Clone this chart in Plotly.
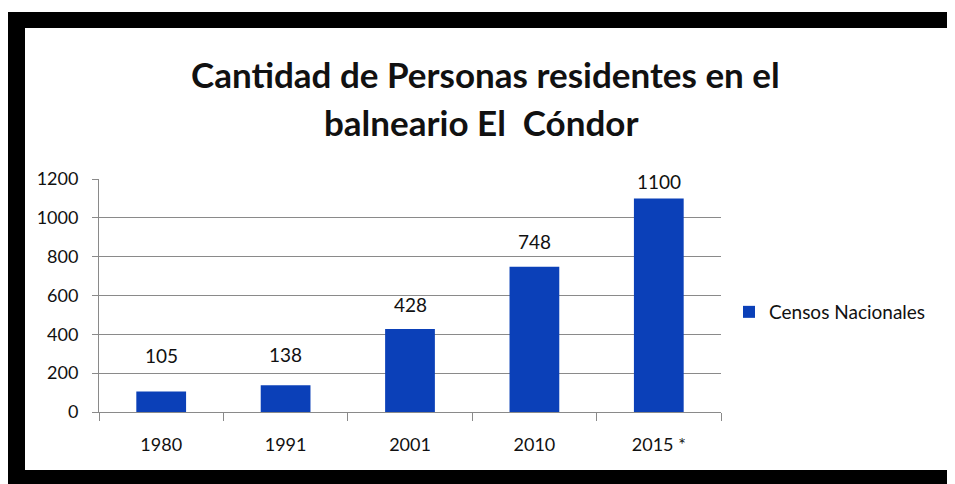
import plotly.graph_objects as go

categories = ["1980", "1991", "2001", "2010", "2015 *"]
values = [105, 138, 428, 748, 1100]
series_name = "Censos Nacionales"
title_lines = ["Cantidad de Personas residentes en el", "balneario El  Cóndor"]
y_ticks = [0, 200, 400, 600, 800, 1000, 1200]

# style: vertical offset (px) of each value label above its bar
label_yshift = [36, 31, 24, 25, 17]

BAR = "#0B40B8"
FONT = "Lato"
TXT = "#111111"

# the page has an 8px body margin, so the figure is drawn 8px smaller/shifted
W, H = 947, 476
L, R, T, B = 91, 234, 171, 72
pw, ph = W - L - R, H - T - B

def px(x):
    return (x - L) / pw

def py(y):
    return (H - B - y) / ph

fig = go.Figure()
fig.add_trace(go.Bar(
    x=categories, y=values, name=series_name,
    marker=dict(color=BAR, line=dict(width=0)),
    showlegend=True,
))

for i, v in enumerate(values):
    fig.add_annotation(x=i, y=v, text=str(v), showarrow=False,
                       yshift=label_yshift[i], yanchor="middle",
                       font=dict(family=FONT, size=19, color=TXT))

fig.add_annotation(x=px(477), y=py(66), xref="paper", yref="paper",
                   text="<b>" + title_lines[0] + "</b>", showarrow=False,
                   xanchor="center", yanchor="middle",
                   font=dict(family=FONT, size=35, color=TXT))
fig.add_annotation(x=px(474), y=py(114), xref="paper", yref="paper",
                   text="<b>" + title_lines[1] + "</b>", showarrow=False,
                   xanchor="center", yanchor="middle",
                   font=dict(family=FONT, size=35, color=TXT))

shapes = [
    dict(type="rect", xref="paper", yref="paper", x0=px(0), x1=px(948), y0=py(4), y1=py(477),
         fillcolor="black", line=dict(width=0), layer="below"),
    dict(type="rect", xref="paper", yref="paper", x0=px(17), x1=px(940), y0=py(20), y1=py(462),
         fillcolor="white", line=dict(width=0), layer="below"),
]

fig.update_layout(
    width=W, height=H,
    margin=dict(l=L, r=R, t=T, b=B),
    paper_bgcolor="white",
    plot_bgcolor="rgba(0,0,0,0)",
    shapes=shapes,
    bargap=0.6,
    font=dict(family=FONT, size=18, color=TXT),
    legend=dict(x=px(721), y=py(304), xanchor="left", yanchor="middle",
                font=dict(family=FONT, size=19, color=TXT),
                bgcolor="rgba(0,0,0,0)", itemwidth=30),
    xaxis=dict(
        type="category", range=[-0.5, len(categories) - 0.5], showgrid=False,
        showline=True, linecolor="#8a8a8a", linewidth=1,
        ticks="outside", tickson="boundaries", ticklen=8, tickcolor="#8a8a8a",
        tickfont=dict(family=FONT, size=18, color=TXT), ticklabelstandoff=16,
    ),
    yaxis=dict(
        range=[0, 1200], tickvals=y_ticks, showgrid=True, gridcolor="#8a8a8a", gridwidth=1,
        zeroline=False,
        showline=True, linecolor="#8a8a8a", linewidth=1,
        ticks="outside", ticklen=6, tickcolor="#8a8a8a",
        tickfont=dict(family=FONT, size=18, color=TXT), ticklabelstandoff=10,
    ),
)

fig.write_html("out.html")
